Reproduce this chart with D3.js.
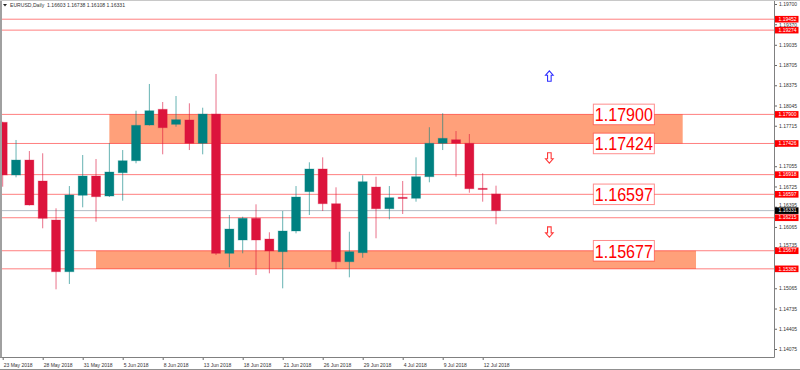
<!DOCTYPE html>
<html>
<head>
<meta charset="utf-8">
<script src="https://cdn.jsdelivr.net/npm/d3@7"></script>
<style>
  html, body { margin: 0; padding: 0; background: #fff; }
  svg { display: block; }
</style>
</head>
<body>
<svg id="chart" width="800" height="370"></svg>
<script>
// ---------------- DATA ----------------
const dates = ["2018-05-23","2018-05-24","2018-05-25","2018-05-28","2018-05-29","2018-05-30","2018-05-31","2018-06-01","2018-06-04","2018-06-05","2018-06-06","2018-06-07","2018-06-08","2018-06-11","2018-06-12","2018-06-13","2018-06-14","2018-06-15","2018-06-18","2018-06-19","2018-06-20","2018-06-21","2018-06-22","2018-06-25","2018-06-26","2018-06-27","2018-06-28","2018-06-29","2018-07-02","2018-07-03","2018-07-04","2018-07-05","2018-07-06","2018-07-09","2018-07-10","2018-07-11","2018-07-12","2018-07-13"];
const opens  = [1.17771,1.16912,1.17156,1.16814,1.16178,1.15335,1.16581,1.16896,1.16569,1.16949,1.17145,1.17727,1.17983,1.17738,1.17809,1.17429,1.17906,1.15635,1.15852,1.16206,1.15868,1.15661,1.15999,1.16640,1.17010,1.16444,1.15498,1.15645,1.16716,1.16362,1.16548,1.16532,1.16884,1.17429,1.17487,1.17429,1.16695,1.16603];
const highs  = [1.17780,1.17483,1.17303,1.17266,1.16369,1.16732,1.17238,1.17173,1.17429,1.17319,1.17960,1.18396,1.18102,1.18200,1.18081,1.18009,1.18559,1.16260,1.16232,1.16434,1.15978,1.16325,1.16732,1.17119,1.17200,1.16711,1.15987,1.16907,1.16884,1.16732,1.16814,1.17200,1.17690,1.17918,1.17629,1.17580,1.16940,1.16738];
const lows   = [1.16721,1.16874,1.16415,1.16043,1.15048,1.15135,1.16385,1.16150,1.16553,1.16493,1.17103,1.17719,1.17249,1.17699,1.17319,1.17249,1.15607,1.15407,1.15635,1.15281,1.15309,1.15064,1.15961,1.16260,1.16325,1.15379,1.15244,1.15563,1.15880,1.16190,1.16276,1.16477,1.16793,1.17319,1.16884,1.16623,1.16477,1.16108];
const closes = [1.16912,1.17156,1.16423,1.16206,1.15335,1.16586,1.16896,1.16558,1.16961,1.17145,1.17722,1.17960,1.17683,1.17814,1.17429,1.17906,1.15635,1.16031,1.16206,1.15852,1.15673,1.15999,1.16553,1.17010,1.16444,1.15498,1.15661,1.16803,1.16362,1.16542,1.16532,1.16884,1.17429,1.17510,1.17429,1.16688,1.16684,1.16331];

const yTicks = [1.19700,1.19370,1.19035,1.18705,1.18375,1.18045,1.17715,1.17385,1.17055,1.16725,1.16395,1.16065,1.15735,1.15405,1.15065,1.14735,1.14405,1.14075];
const xTickIndex  = [0,3,6,9,12,15,18,21,24,27,30,33,36];
const xTickLabels = ["23 May 2018","28 May 2018","31 May 2018","5 Jun 2018","8 Jun 2018","13 Jun 2018","18 Jun 2018","21 Jun 2018","26 Jun 2018","29 Jun 2018","4 Jul 2018","9 Jul 2018","12 Jul 2018"];

const levelPrices = [1.19452,1.19274,1.17900,1.17426,1.16918,1.16597,1.16215,1.15677,1.15382];
const levelLabels = ["1.19452","1.19274","1.17900","1.17426","1.16918","1.16597","1.16215","1.15677","1.15382"];
const currentPrice = 1.16331;
const currentLabel = "1.16331";

const zoneHigh  = [1.17900, 1.15677];
const zoneLow   = [1.17426, 1.15382];
const zoneStart = [8, 7];
const zoneEnd   = [51, 52];

const calloutPrices = [1.17900, 1.17426, 1.16597, 1.15677];
const calloutTexts  = ["1.17900", "1.17424", "1.16597", "1.15677"];
const calloutBar = 44.3;

const arrowBars   = [41, 41, 41];
const arrowPrices = [1.18526, 1.17189, 1.15982];
const arrowDirs   = ["up", "down", "down"];

const titleText = "EURUSD,Daily  1.16603 1.16738 1.16108 1.16331";

// ---------------- LAYOUT ----------------
const plotLeft = 2, plotRight = 774, plotTop = 1, plotBottom = 357;
const svg = d3.select("#chart");
const FONT = "'Liberation Sans', Arial, sans-serif";

const x = d3.scaleLinear().domain([0, dates.length - 1]).range([2.7, 2.7 + 13.333 * (dates.length - 1)]);
const y = d3.scaleLinear().domain([1.14075, 1.19700]).range([349, 4]);

svg.append("rect").attr("width", 800).attr("height", 370).attr("fill", "#fff");

svg.append("defs").append("clipPath").attr("id", "plotclip")
  .append("rect").attr("x", plotLeft).attr("y", plotTop)
  .attr("width", plotRight - plotLeft).attr("height", plotBottom - plotTop);

const plot = svg.append("g").attr("clip-path", "url(#plotclip)");

// zones
plot.selectAll("rect.zone").data(zoneHigh).enter().append("rect")
  .attr("class", "zone")
  .attr("x", (d, i) => x(zoneStart[i]))
  .attr("width", (d, i) => x(zoneEnd[i]) - x(zoneStart[i]))
  .attr("y", d => y(d))
  .attr("height", (d, i) => y(zoneLow[i]) - y(d))
  .attr("fill", "#ffa07a");

// horizontal levels
plot.selectAll("line.level").data(levelPrices).enter().append("line")
  .attr("x1", plotLeft).attr("x2", plotRight)
  .attr("y1", d => y(d)).attr("y2", d => y(d))
  .attr("stroke", "#ff0000").attr("stroke-opacity", 0.5).attr("stroke-width", 1);

// current price line
plot.append("line")
  .attr("x1", plotLeft).attr("x2", plotRight)
  .attr("y1", y(currentPrice)).attr("y2", y(currentPrice))
  .attr("stroke", "#b4bcc4").attr("stroke-width", 1);

// candles
const bull = "#008080", bear = "#dc143c";
const idx = d3.range(dates.length);
const colorOf = i => closes[i] >= opens[i] ? bull : bear;

plot.selectAll("line.wick").data(idx).enter().append("line")
  .attr("x1", i => x(i)).attr("x2", i => x(i))
  .attr("y1", i => y(highs[i])).attr("y2", i => y(lows[i]))
  .attr("stroke", colorOf).attr("stroke-opacity", 0.6).attr("stroke-width", 1);

const bw = 9;
plot.selectAll("rect.body").data(idx).enter().append("rect")
  .attr("x", i => x(i) - bw / 2)
  .attr("width", bw)
  .attr("y", i => y(Math.max(opens[i], closes[i])))
  .attr("height", i => Math.max(1.2, Math.abs(y(opens[i]) - y(closes[i]))))
  .attr("fill", colorOf)
  .attr("stroke", colorOf).attr("stroke-opacity", 0.3).attr("stroke-width", 1);

// arrows
function arrowPath(cx, cy, dir) {
  const h = 5.2, hw = 3.8, sw = 1.8, mid = 0.8;
  const s = dir === "up" ? 1 : -1;
  const pts = [
    [cx, cy - s * h],
    [cx + hw, cy - s * mid],
    [cx + sw, cy - s * mid],
    [cx + sw, cy + s * h],
    [cx - sw, cy + s * h],
    [cx - sw, cy - s * mid],
    [cx - hw, cy - s * mid]
  ];
  return "M" + pts.map(p => p.join(",")).join("L") + "Z";
}
plot.selectAll("path.arrow").data(arrowPrices).enter().append("path")
  .attr("d", (d, i) => arrowPath(x(arrowBars[i]), y(d), arrowDirs[i]))
  .attr("fill", "#fff")
  .attr("stroke", (d, i) => arrowDirs[i] === "up" ? "#3030ff" : "#ff3a3a")
  .attr("stroke-width", 1.1);

// callouts
const cw = 61, ch = 20.5;
const callouts = plot.selectAll("g.callout").data(calloutPrices).enter().append("g");
callouts.append("rect")
  .attr("x", x(calloutBar)).attr("y", d => y(d) - ch / 2)
  .attr("width", cw).attr("height", ch)
  .attr("fill", "#fff").attr("stroke", "#ff0000").attr("stroke-opacity", 0.45).attr("stroke-width", 1);
callouts.append("text")
  .attr("x", x(calloutBar) + 1.5).attr("y", d => y(d) + 6.8)
  .attr("font-family", FONT).attr("font-size", 18)
  .attr("textLength", 58).attr("lengthAdjust", "spacingAndGlyphs")
  .attr("fill", "#ff0000")
  .text((d, i) => calloutTexts[i]);

// ---------------- AXES ----------------
const yAxisG = svg.append("g").attr("transform", `translate(${plotRight},0)`)
  .call(d3.axisRight(y).tickValues(yTicks).tickSize(3).tickPadding(2).tickFormat(d3.format(".5f")));
yAxisG.select(".domain").remove();
yAxisG.selectAll(".tick line").attr("stroke", "#666");
yAxisG.selectAll(".tick text").attr("font-family", FONT).attr("font-size", 5).attr("fill", "#333");

// tick labels that fall under a price box: hidden if fully covered, nudged clear if partly covered
const boxPrices = levelPrices.concat([currentPrice]);
const boxHalf = 3.3, textHalf = 2.0;
yAxisG.selectAll(".tick").each(function(t) {
  const ty = y(t);
  let nearest = null, dist = Infinity;
  boxPrices.forEach(p => { const dd = Math.abs(y(p) - ty); if (dd < dist) { dist = dd; nearest = y(p); } });
  const txt = d3.select(this).select("text");
  if (dist < 3) {
    txt.remove();
  } else if (dist < boxHalf + textHalf + 0.3) {
    const shift = (boxHalf + textHalf + 0.3 - dist) * (ty < nearest ? -1 : 1);
    txt.attr("y", shift);
  }
});

const xAxisG = svg.append("g").attr("transform", `translate(0,${plotBottom})`)
  .call(d3.axisBottom(x).tickValues(xTickIndex).tickSize(3).tickPadding(3)
    .tickFormat(d => xTickLabels[xTickIndex.indexOf(d)]));
xAxisG.select(".domain").remove();
xAxisG.selectAll(".tick line").attr("stroke", "#666");
xAxisG.selectAll(".tick text").attr("font-family", FONT).attr("font-size", 5)
  .attr("fill", "#333").attr("text-anchor", "start").attr("x", 0.5);

// frame lines
svg.append("line").attr("x1", plotRight + 0.5).attr("x2", plotRight + 0.5).attr("y1", 0).attr("y2", plotBottom + 0.5)
  .attr("stroke", "#808080");
svg.append("line").attr("x1", 0).attr("x2", plotRight + 0.5).attr("y1", plotBottom + 0.5).attr("y2", plotBottom + 0.5)
  .attr("stroke", "#808080");
svg.append("line").attr("x1", 1).attr("x2", 1).attr("y1", 0).attr("y2", plotBottom + 0.5)
  .attr("stroke", "#a0a0a0").attr("stroke-width", 2);
svg.append("line").attr("x1", 0).attr("x2", 800).attr("y1", 0.5).attr("y2", 0.5)
  .attr("stroke", "#c8c8c8");
svg.append("line").attr("x1", 0).attr("x2", 800).attr("y1", 369.5).attr("y2", 369.5)
  .attr("stroke", "#909090");

// axis price labels
const lb = svg.selectAll("g.plabel").data(levelPrices).enter().append("g");
lb.append("rect").attr("x", plotRight + 1).attr("y", d => y(d) - boxHalf)
  .attr("width", 23.5).attr("height", boxHalf * 2).attr("fill", "#ff0000");
lb.append("text").attr("x", plotRight + 4.5).attr("y", d => y(d)).attr("dy", "0.35em")
  .attr("font-family", FONT).attr("font-size", 5).attr("fill", "#fff")
  .text((d, i) => levelLabels[i]);

svg.append("rect").attr("x", plotRight + 1).attr("y", y(currentPrice) - boxHalf)
  .attr("width", 23.5).attr("height", boxHalf * 2).attr("fill", "#000");
svg.append("text").attr("x", plotRight + 4.5).attr("y", y(currentPrice)).attr("dy", "0.35em")
  .attr("font-family", FONT).attr("font-size", 5).attr("fill", "#fff").text(currentLabel);

// title
svg.append("path").attr("d", "M3,4 L7,4 L5,6.5 Z").attr("fill", "#222");
svg.append("text").attr("x", 10).attr("y", 7)
  .attr("font-family", FONT).attr("font-size", 5.1).attr("fill", "#333")
  .attr("xml:space", "preserve").style("white-space", "pre")
  .text(titleText);
</script>
</body>
</html>
